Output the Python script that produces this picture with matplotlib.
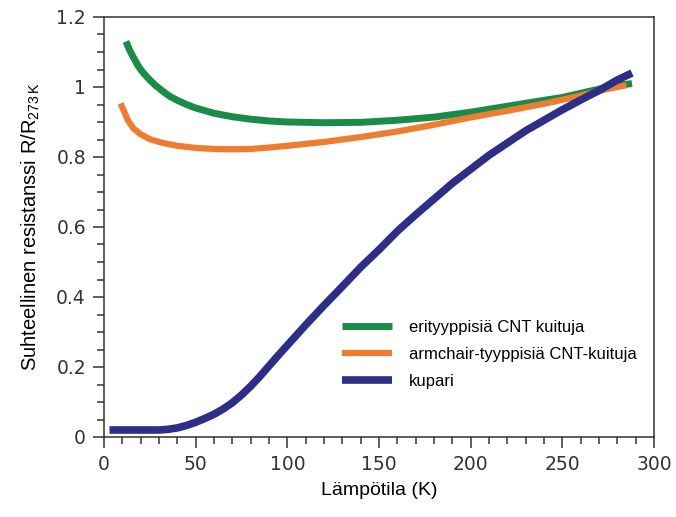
import matplotlib
matplotlib.use("Agg")
import matplotlib.pyplot as plt
from matplotlib.ticker import MultipleLocator, FuncFormatter

plt.rcParams['font.family'] = ['Liberation Sans', 'DejaVu Sans']
plt.rcParams['mathtext.default'] = 'regular'

# Data
t_green = [12, 14, 16, 18, 20, 22, 25, 28, 32, 36, 40, 45, 50, 60, 70, 80, 90, 100, 120, 140, 160, 180, 200,
           220, 240, 250, 260, 275, 288]
r_green = [1.13, 1.105, 1.085, 1.066, 1.05, 1.037, 1.02, 1.005, 0.988, 0.973, 0.962, 0.95, 0.94, 0.925, 0.915,
           0.908, 0.903, 0.9, 0.898, 0.899, 0.905, 0.914, 0.928, 0.945, 0.962, 0.97, 0.982, 1.0, 1.01]

t_orange = [9, 11, 13, 16, 20, 25, 30, 35, 40, 50, 60, 70, 80, 90, 100, 120, 140, 160, 180, 200, 220, 240,
            260, 275, 285]
r_orange = [0.953, 0.93, 0.905, 0.882, 0.865, 0.851, 0.843, 0.837, 0.832, 0.826, 0.823, 0.822, 0.823, 0.827,
            0.832, 0.843, 0.857, 0.873, 0.892, 0.913, 0.932, 0.952, 0.975, 0.995, 1.005]

t_blue = [3, 10, 20, 30, 35, 40, 45, 50, 55, 60, 65, 70, 75, 80, 85, 90, 95, 100, 110, 120, 130, 140, 150,
          160, 170, 180, 190, 200, 210, 220, 230, 240, 250, 260, 270, 280, 288]
r_blue = [0.02, 0.02, 0.02, 0.02, 0.022, 0.026, 0.033, 0.042, 0.053, 0.065, 0.08, 0.098, 0.12, 0.145, 0.173,
          0.203, 0.233, 0.262, 0.32, 0.376, 0.43, 0.485, 0.535, 0.588, 0.635, 0.68, 0.725, 0.765, 0.805, 0.84,
          0.875, 0.905, 0.935, 0.963, 0.99, 1.02, 1.04]

labels = ["erityyppisiä CNT kuituja", "armchair-tyyppisiä CNT-kuituja", "kupari"]
colors = ["#1a8c48", "#ee7d31", "#2c2e88"]

fig = plt.figure(figsize=(6.76, 5.17), dpi=100)
ax = fig.add_axes([104 / 676, 1 - 437 / 517, 550 / 676, 420 / 517])

ax.plot(t_green, r_green, color=colors[0], lw=5, solid_capstyle='butt', solid_joinstyle='round', label=labels[0])
ax.plot(t_orange, r_orange, color=colors[1], lw=4.5, solid_capstyle='butt', solid_joinstyle='round', label=labels[1])
ax.plot(t_blue, r_blue, color=colors[2], lw=5.5, solid_capstyle='butt', solid_joinstyle='round', label=labels[2])

ax.set_xlim(0, 300)
ax.set_ylim(0, 1.2)
ax.xaxis.set_major_locator(MultipleLocator(50))
ax.xaxis.set_minor_locator(MultipleLocator(10))
ax.yaxis.set_major_locator(MultipleLocator(0.2))
ax.yaxis.set_minor_locator(MultipleLocator(0.05))
ax.yaxis.set_major_formatter(FuncFormatter(lambda v, p: f"{v:g}"))

for s in ax.spines.values():
    s.set_color('#333333')
    s.set_linewidth(1.1)

ax.tick_params(which='both', direction='out', color='#333333', width=1.1, top=False, right=False)
ax.tick_params(which='major', length=8, labelsize=13.5, pad=5)
ax.tick_params(which='minor', length=5)
for lab in ax.get_xticklabels() + ax.get_yticklabels():
    lab.set_family('DejaVu Sans')
    lab.set_color('#333333')

ax.set_xlabel("Lämpötila (K)", fontsize=14, labelpad=6)
ax.set_ylabel(r"Suhteellinen resistanssi R/R$_{273\,K}$", fontsize=14.5, labelpad=10)

ax.legend(loc='upper left', bbox_to_anchor=(0.421, 0.294), frameon=False, fontsize=12,
          handlelength=3.0, handletextpad=1.0, labelspacing=0.7, borderaxespad=0)

fig.savefig("out.png", dpi=100, facecolor='white')
